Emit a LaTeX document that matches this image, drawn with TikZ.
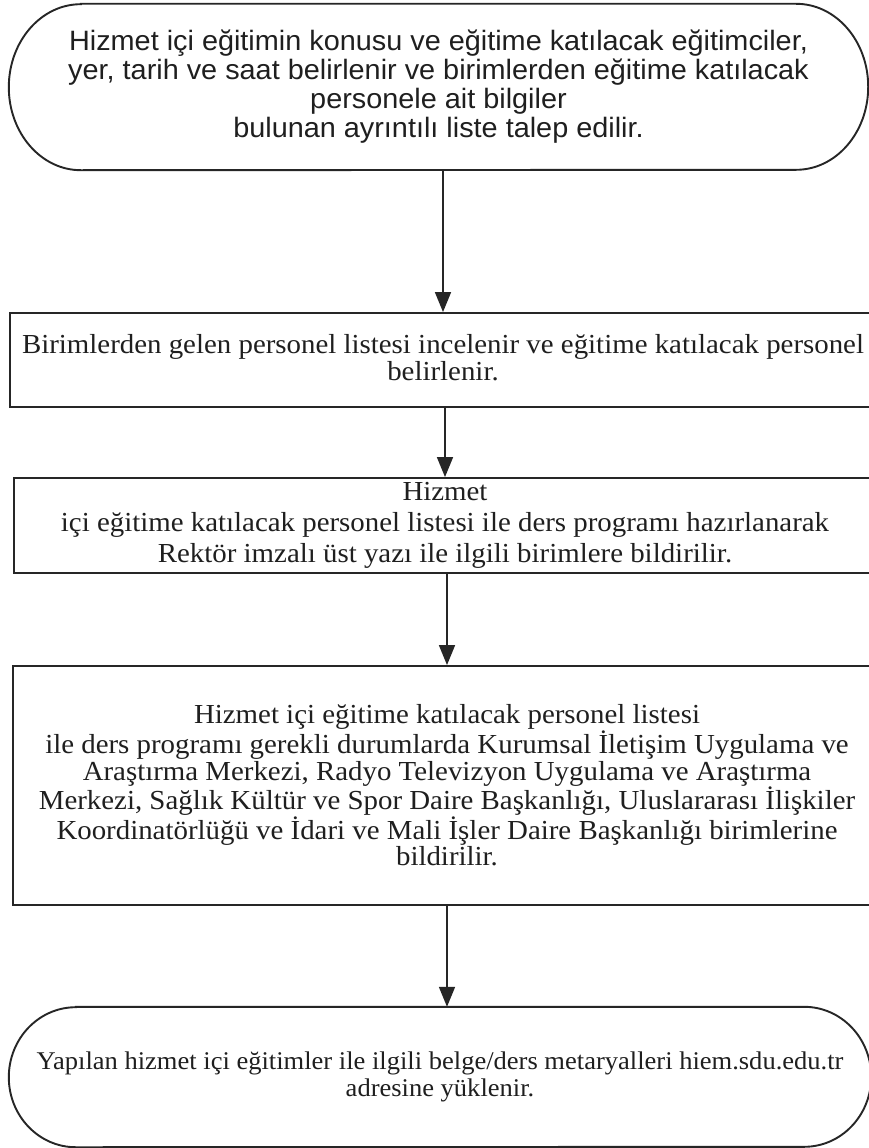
\documentclass[tikz,border=0pt]{standalone}
\usepackage{fontspec}
\setmainfont{Liberation Serif}
\newfontfamily\flowserif[FakeStretch=1.05]{Liberation Serif}
\newfontfamily\flowserifnarrow[FakeStretch=1.04]{Liberation Serif}
\newfontfamily\flowsans[FakeStretch=1.03]{Liberation Sans}
\usetikzlibrary{arrows.meta}

\tikzset{
  outline/.style={draw=black!85, line width=1.9pt},
  flowtext/.style={align=center, inner sep=0pt, text=black!88},
  serifbox/.style={flowtext, font=\flowserif\fontsize{27.5}{27}\selectfont},
  sansbox/.style={flowtext, font=\flowsans\fontsize{28}{29}\selectfont},
  procbox/.style={outline, serifbox, rectangle},
  flowarrow/.style={draw=black!85, line width=1.7pt,
    -{Triangle[length=20pt, width=16pt]}},
}

\begin{document}
\begin{tikzpicture}[x=1pt, y=1pt]
  \useasboundingbox (0,0) rectangle (869,-1148);
  \clip (0,0) rectangle (869,-1148);
  \fill[white] (0,0) rectangle (869,-1148);

  % start terminator
  \node[sansbox, minimum width=859pt, minimum height=166pt] (start) at (438.5,-87)
    {Hizmet içi eğitimin konusu ve eğitime katılacak eğitimciler,\\
     yer, tarih ve saat belirlenir ve birimlerden eğitime katılacak\\
     personele ait bilgiler\\
     bulunan ayrıntılı liste talep edilir.};
  \draw[outline]
    ([xshift=72pt]start.north west) -- ([xshift=-72pt]start.north east)
    arc[start angle=90, end angle=-90, x radius=72pt, y radius=83pt]
    -- ([xshift=72pt]start.south west)
    arc[start angle=270, end angle=90, x radius=72pt, y radius=83pt]
    -- cycle;

  % process steps
  \node[procbox, minimum width=866pt, minimum height=94pt] (review) at (443,-360)
    {Birimlerden gelen personel listesi incelenir ve eğitime katılacak personel\\
     belirlenir.\rule[-6pt]{0pt}{1pt}};

  \node[procbox, font=\flowserif\fontsize{27.5}{31}\selectfont,
        minimum width=862pt, minimum height=95pt] (notify) at (445,-525.5)
    {Hizmet\\
     içi eğitime katılacak personel listesi ile ders programı hazırlanarak\\
     Rektör imzalı üst yazı ile ilgili birimlere bildirilir.};

  \node[procbox, font=\flowserif\fontsize{27.5}{26.5}\selectfont,
        minimum width=868pt, minimum height=239pt] (units) at (447,-785.5)
    {Hizmet içi eğitime katılacak personel listesi\\
     ile ders programı gerekli durumlarda Kurumsal İletişim Uygulama ve\\
     Araştırma Merkezi, Radyo Televizyon Uygulama ve Araştırma\\
     Merkezi, Sağlık Kültür ve Spor Daire Başkanlığı, Uluslararası İlişkiler\\
     Koordinatörlüğü ve İdari ve Mali İşler Daire Başkanlığı birimlerine\\
     bildirilir.};

  % end terminator
  \node[flowtext, font=\flowserifnarrow\fontsize{25.5}{27}\selectfont,
        minimum width=862pt, minimum height=140pt] (finish) at (440,-1077)
    {Yapılan hizmet içi eğitimler ile ilgili belge/ders metaryalleri hiem.sdu.edu.tr\\
     adresine yüklenir.};
  \draw[outline]
    ([xshift=67pt]finish.north west) -- ([xshift=-67pt]finish.north east)
    arc[start angle=90, end angle=-90, x radius=67pt, y radius=70pt]
    -- ([xshift=67pt]finish.south west)
    arc[start angle=270, end angle=90, x radius=67pt, y radius=70pt]
    -- cycle;

  % connectors
  \draw[flowarrow] (start.south -| review.north) -- (review.north);
  \draw[flowarrow] (review.south -| notify.north) -- (notify.north);
  \draw[flowarrow] (notify.south -| units.north) -- (units.north);
  \draw[flowarrow] (units.south) -- (units.south |- finish.north);
\end{tikzpicture}
\end{document}
